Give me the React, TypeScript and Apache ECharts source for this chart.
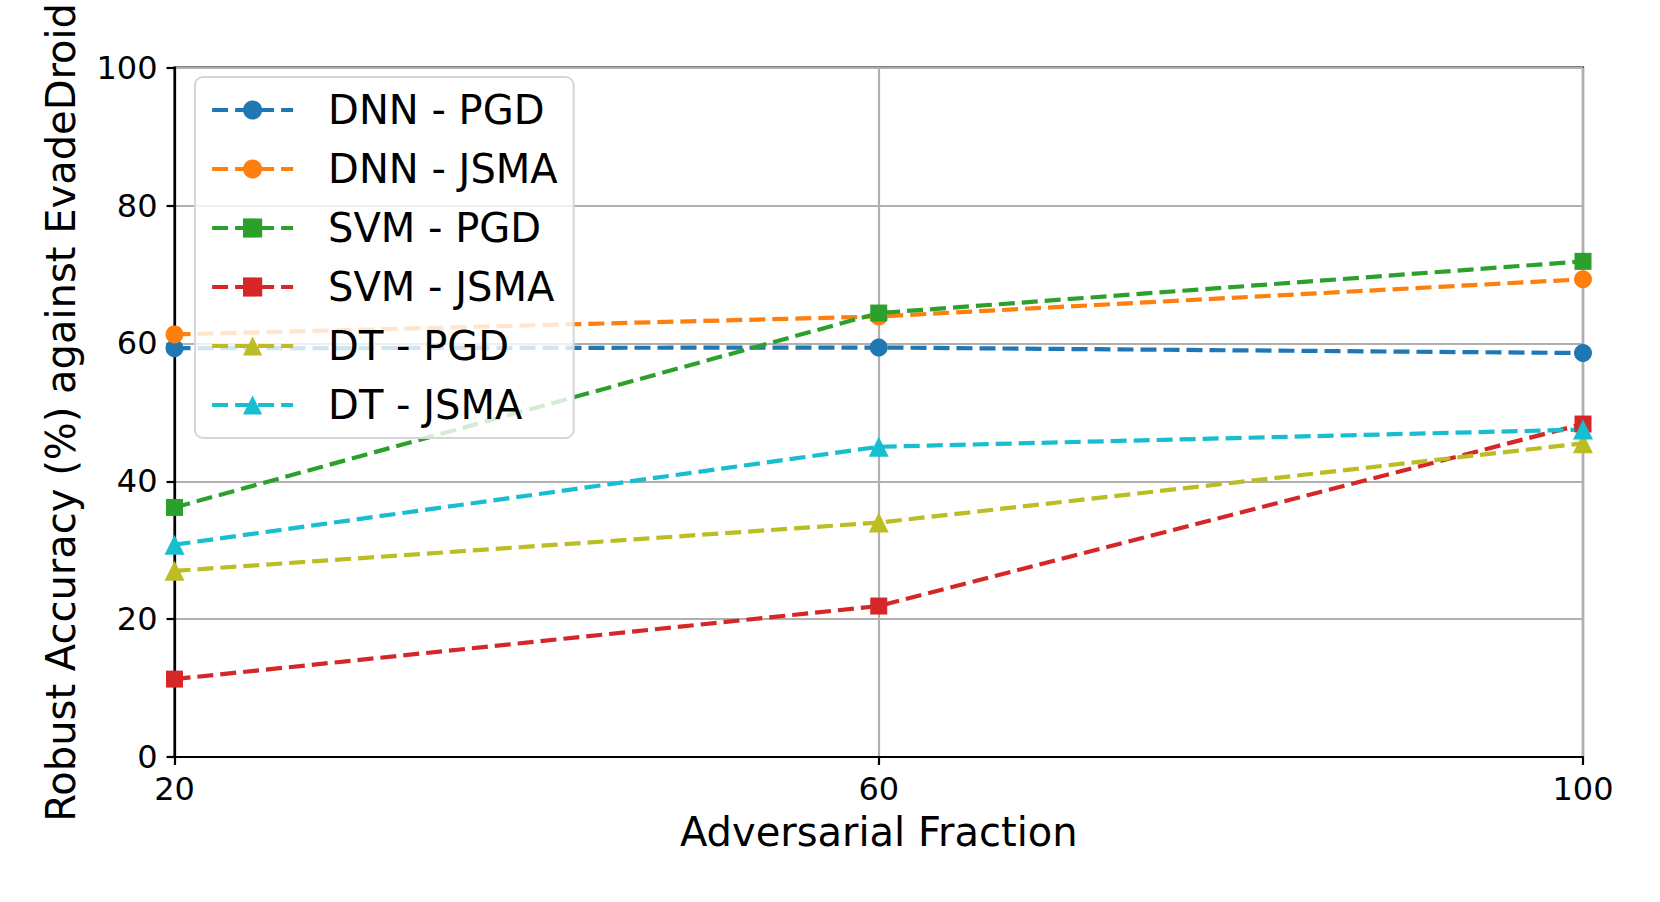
import React, { useEffect, useRef } from "react";
import * as echarts from "echarts";

const categories = ["20", "60", "100"];
const dnnPgd = [59.3, 59.4, 58.6];
const dnnJsma = [61.3, 63.9, 69.3];
const svmPgd = [36.2, 64.4, 71.9];
const svmJsma = [11.3, 21.9, 48.3];
const dtPgd = [27.0, 34.0, 45.5];
const dtJsma = [30.8, 45.0, 47.5];
const seriesNames = ["DNN - PGD", "DNN - JSMA", "SVM - PGD", "SVM - JSMA", "DT - PGD", "DT - JSMA"];
const seriesData = [dnnPgd, dnnJsma, svmPgd, svmJsma, dtPgd, dtJsma];
const colors = ["#1f77b4", "#ff7f0e", "#2ca02c", "#d62728", "#bcbd22", "#17becf"];
const symbols = ["circle", "circle", "rect", "rect", "triangle", "triangle"];
const yTicks = [0, 20, 40, 60, 80, 100];

const FONT = "DejaVu Sans";

export default function App() {
  const ref = useRef<HTMLDivElement>(null);
  useEffect(() => {
    if (!ref.current) return;
    const chart = echarts.init(ref.current, null, { renderer: "svg" });
    chart.setOption({
      animation: false,
      backgroundColor: "#ffffff",
      grid: {
        left: 174.5,
        right: 77,
        top: 58.5,
        bottom: 145,
        show: true,
        borderColor: "#000",
        borderWidth: 2.2,
        backgroundColor: "transparent",
      },
      legend: {
        orient: "vertical",
        left: 195,
        top: 77,
        itemWidth: 81,
        itemHeight: 24,
        itemGap: 17,
        padding: [12, 16, 12, 15],
        backgroundColor: "rgba(255,255,255,0.8)",
        borderColor: "#d6d6d6",
        borderWidth: 2,
        borderRadius: 8,
        lineStyle: { width: 4.2, type: [16, 7] },
        textStyle: {
          fontFamily: FONT,
          fontSize: 40,
          color: "#000",
          lineHeight: 42,
          padding: [0, 0, 0, 30],
        },
        data: seriesNames,
      },
      xAxis: {
        type: "category",
        data: categories,
        boundaryGap: false,
        name: "Adversarial Fraction",
        nameLocation: "middle",
        nameGap: 55,
        nameTextStyle: { fontFamily: FONT, fontSize: 40, color: "#000" },
        axisLine: { lineStyle: { color: "#000", width: 2.2 } },
        axisTick: { show: true, length: 8, lineStyle: { color: "#000", width: 2.2 } },
        axisLabel: { fontFamily: FONT, fontSize: 32, color: "#000", margin: 16 },
        splitLine: { show: true, lineStyle: { color: "#b0b0b0", width: 2.2 } },
      },
      yAxis: {
        type: "value",
        min: 0,
        max: 100,
        interval: 20,
        name: "Robust Accuracy (%) against EvadeDroid",
        nameLocation: "middle",
        nameGap: 94,
        nameTextStyle: { fontFamily: FONT, fontSize: 40, color: "#000" },
        axisLine: { show: true, lineStyle: { color: "#000", width: 2.2 } },
        axisTick: { show: true, length: 8, lineStyle: { color: "#000", width: 2.2 } },
        axisLabel: {
          fontFamily: FONT,
          fontSize: 32,
          color: "#000",
          margin: 17,
          formatter: (v: number) => (yTicks.includes(v) ? String(v) : ""),
        },
        splitLine: { show: true, lineStyle: { color: "#b0b0b0", width: 2.2 } },
      },
      series: seriesNames.map((name, i) => ({
        name,
        type: "line",
        data: seriesData[i],
        symbol: symbols[i],
        symbolSize: symbols[i] === "triangle" ? 20 : symbols[i] === "rect" ? 17 : 18,
        showAllSymbol: true,
        color: colors[i],
        itemStyle: { color: colors[i] },
        lineStyle: { color: colors[i], width: 4.2, type: [16, 7] },
        clip: true,
      })),
    });
    return () => chart.dispose();
  }, []);
  return (
    <div
      ref={ref}
      style={{ position: "absolute", left: 0, top: 0, width: 1660, height: 902 }}
    />
  );
}
